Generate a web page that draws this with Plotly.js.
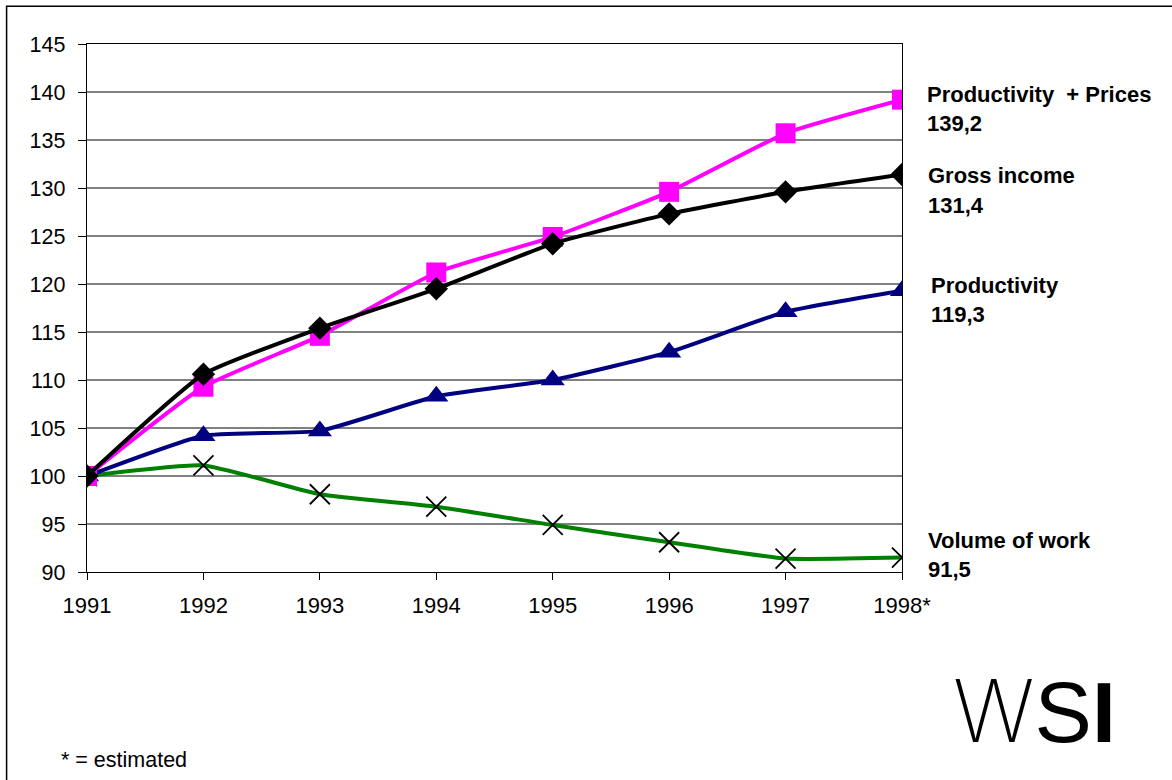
<!DOCTYPE html>
<html>
<head>
<meta charset="utf-8">
<script src="https://cdn.plot.ly/plotly-3.0.1.min.js"></script>
<style>html,body{margin:0;padding:0;background:#fff;}#chart{width:1172px;height:780px;}</style>
</head>
<body>
<div id="chart"></div>
<script>
// Data
const years = ['1991', '1992', '1993', '1994', '1995', '1996', '1997', '1998*'];
const prodPrices = [100, 109.3, 114.6, 121.2, 124.9, 129.6, 135.7, 139.2];
const grossIncome = [100, 110.6, 115.4, 119.5, 124.2, 127.3, 129.6, 131.4];
const productivity = [100, 104.2, 104.7, 108.3, 110.0, 112.9, 117.1, 119.3];
const volumeWork = [100, 101.1, 98.1, 96.8, 94.9, 93.1, 91.4, 91.5];
const yTicks = [90, 95, 100, 105, 110, 115, 120, 125, 130, 135, 140, 145];

const W = 1172, H = 780;
const L = 86.5, R = 902.5, T = 43.7, B = 571.7;
const px = x => (x - L) / (R - L);
const py = y => (B - y) / (B - T);

const font = 'Liberation Sans, Arial, sans-serif';
const SM = 0.45;

const traces = [
  {x: years, y: volumeWork, mode: 'lines+markers', line: {color: '#008000', width: 4, shape: 'spline', smoothing: SM},
   marker: {symbol: 'x-thin', size: 20, color: '#000', line: {color: '#000', width: 1.8}}},
  {x: years, y: productivity, mode: 'lines+markers', line: {color: '#000080', width: 4, shape: 'spline', smoothing: SM},
   marker: {symbol: 'triangle-up', size: 21, color: '#000080'}},
  {x: years, y: prodPrices, mode: 'lines+markers', line: {color: '#ff00ff', width: 4, shape: 'spline', smoothing: SM},
   marker: {symbol: 'square', size: 20, color: '#ff00ff'}},
  {x: years, y: grossIncome, mode: 'lines+markers', line: {color: '#000000', width: 4, shape: 'spline', smoothing: SM},
   marker: {symbol: 'diamond', size: 18, color: '#000000'}}
];

function lbl(text, x, y, opts) {
  return Object.assign({text: text, xref: 'paper', yref: 'paper', x: px(x), y: py(y),
    xanchor: 'left', yanchor: 'middle', showarrow: false,
    font: {family: font, size: 22, color: '#000'}}, opts || {});
}

const annotations = [
  lbl('<b>Productivity  + Prices</b>', 926, 94),
  lbl('<b>139,2</b>', 926, 123),
  lbl('<b>Gross income</b>', 927, 175),
  lbl('<b>131,4</b>', 927, 205),
  lbl('<b>Productivity</b>', 930, 285),
  lbl('<b>119,3</b>', 930, 314),
  lbl('<b>Volume of work</b>', 927, 540),
  lbl('<b>91,5</b>', 927, 569),
  lbl('* = estimated', 58, 760, {font: {family: font, size: 21.5, color: '#000'}}),
  lbl('<span style="font-weight:200;font-family:Inter">W</span>S<b>I</b>', 952, 711, {font: {family: font, size: 86, color: '#000'}})
];

const layout = {
  width: W, height: H,
  margin: {l: L, r: W - R, t: T, b: H - B, pad: 0},
  paper_bgcolor: '#fff', plot_bgcolor: '#fff',
  showlegend: false,
  xaxis: {type: 'category', range: [0, 7], showgrid: false, zeroline: false,
    showline: true, linecolor: '#000', linewidth: 1.3, mirror: true,
    ticks: 'outside', ticklen: 7, tickcolor: '#000', tickwidth: 1, ticklabelstandoff: 6,
    tickfont: {family: font, size: 22, color: '#000'}},
  yaxis: {range: [90, 145], tickvals: yTicks, showgrid: true, gridcolor: '#808080', gridwidth: 1.3,
    zeroline: false, showline: true, linecolor: '#000', linewidth: 1.3, mirror: true,
    ticks: 'outside', ticklen: 8, tickcolor: '#000', tickwidth: 1, ticklabelstandoff: 8,
    tickfont: {family: font, size: 21.5, color: '#000'}},
  annotations: annotations,
  shapes: [{type: 'rect', xref: 'paper', yref: 'paper', x0: px(6), x1: px(W + 20), y0: py(H + 20), y1: py(6),
    line: {color: '#000', width: 1.5}, fillcolor: 'rgba(0,0,0,0)', layer: 'below'}]
};

Plotly.newPlot('chart', traces, layout, {displayModeBar: false, staticPlot: true});
</script>
</body>
</html>
